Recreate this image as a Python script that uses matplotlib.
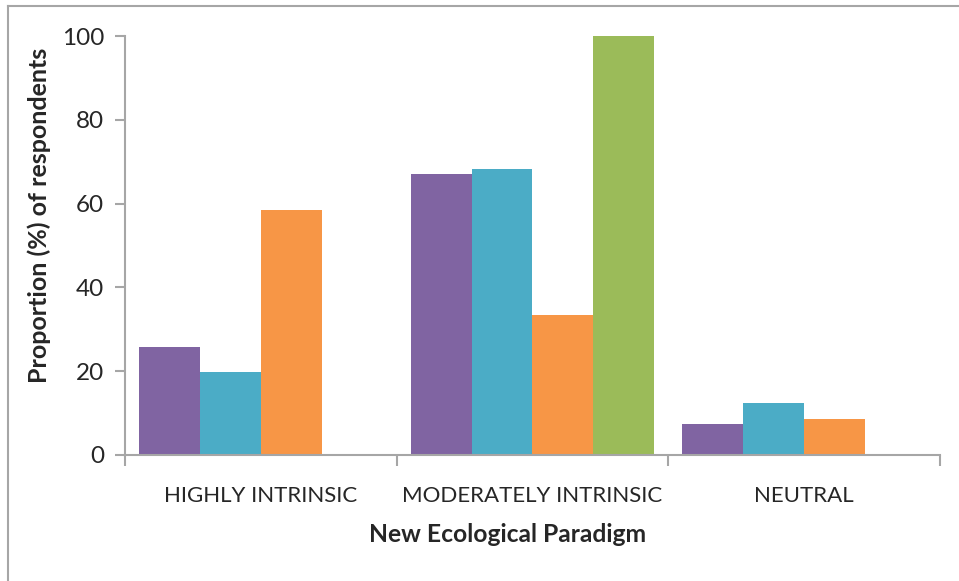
import matplotlib.pyplot as plt
from matplotlib.lines import Line2D
import numpy as np

plt.rcParams["font.family"] = ["Lato", "DejaVu Sans"]

categories = ["HIGHLY INTRINSIC", "MODERATELY INTRINSIC", "NEUTRAL"]
series_a = [25.8, 67.1, 7.4]
series_b = [19.8, 68.3, 12.4]
series_c = [58.5, 33.4, 8.6]
series_d = [0, 100, 0]
colors = ["#8064A2", "#4BACC6", "#F79646", "#9BBB59"]

fig = plt.figure(figsize=(9.59, 5.81), dpi=100)
ax = fig.add_axes([0.1303, 0.2169, 0.8499, 0.7211])

x = np.arange(len(categories))
width = 0.224
for j, (vals, col) in enumerate(zip([series_a, series_b, series_c, series_d], colors)):
    ax.bar(x + (j - 1.5) * width, vals, width, color=col, linewidth=0)

ax.set_xlim(-0.5, 2.5)
ax.set_ylim(0, 100)
ax.set_yticks([0, 20, 40, 60, 80, 100])
ax.set_xticks(x)
ax.set_xticklabels(categories)
ax.set_xticks([-0.5, 0.5, 1.5, 2.5], minor=True)

grey = "#A6A6A6"
for side in ["top", "right"]:
    ax.spines[side].set_visible(False)
for side in ["left", "bottom"]:
    ax.spines[side].set_color(grey)
    ax.spines[side].set_linewidth(1.5)

ax.tick_params(axis="y", length=7, width=1.5, color=grey, labelsize=17.5, labelcolor="#262626", pad=8)
ax.tick_params(axis="x", which="major", length=0, labelsize=16, labelcolor="#262626", pad=22)
ax.tick_params(axis="x", which="minor", length=8, width=1.5, color=grey)

ax.set_xlabel("New Ecological Paradigm", fontsize=17.7, fontweight="bold", color="#262626")
ax.xaxis.set_label_coords(0.469, -0.162)
ax.set_ylabel("Proportion (%) of respondents", fontsize=18, fontweight="bold", color="#262626")
ax.yaxis.set_label_coords(-0.091, 0.573)

# outer chart border (top and left edges)
fig.add_artist(Line2D([8 / 959, 1], [1 - 6 / 581, 1 - 6 / 581], color=grey, linewidth=1.5))
fig.add_artist(Line2D([8 / 959, 8 / 959], [0, 1 - 6 / 581], color=grey, linewidth=1.5))

fig.savefig("out.png", dpi=100)
